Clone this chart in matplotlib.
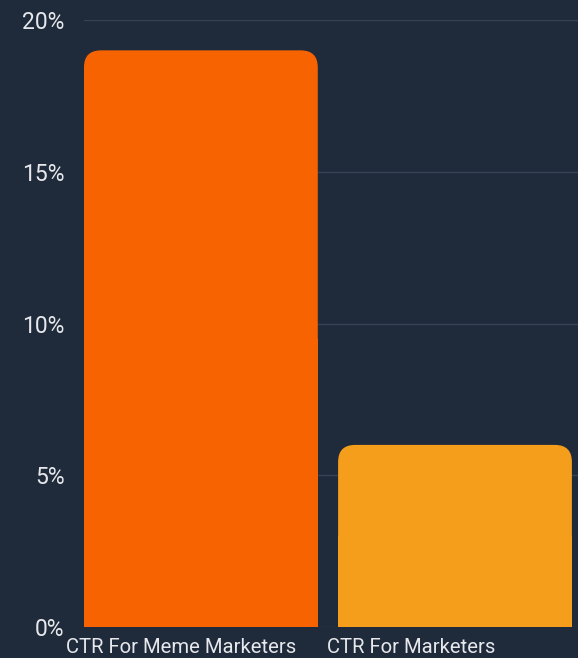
import matplotlib
matplotlib.use("Agg")
import matplotlib.pyplot as plt
from matplotlib.patches import FancyBboxPatch, Rectangle
from matplotlib.transforms import ScaledTranslation

# data
categories = ['CTR For Meme Marketers', 'CTR For Marketers']
ctr_values = [19, 6]
bar_colors = ['#f86302', '#f59e1b']
y_ticks = [0, 5, 10, 15, 20]
y_labels = ['0%', '5%', '10%', '15%', '20%']

bg = '#1f2a3b'
text_col = '#e6e8ec'
grid_col = '#364355'

plt.rcParams['font.family'] = ['Roboto', 'DejaVu Sans']

fig = plt.figure(figsize=(5.78, 6.58), dpi=100, facecolor=bg)
ax = fig.add_axes([0.1453, 0.0471, 0.8547, 0.9225])
ax.set_facecolor(bg)

width = 0.92
x = list(range(len(categories)))
bars = ax.bar(x, ctr_values, width=width, color=bar_colors, alpha=0)

ax.set_xlim(-0.46, 1.484)
ax.set_ylim(0, 20)

# rounded top corners (round box on top of a square bottom half)
aspect = 8.36  # data-y per data-x for one pixel
r = 0.067
for b, c in zip(bars, bar_colors):
    bx, by = b.get_x(), b.get_y()
    bw, bh = b.get_width(), b.get_height()
    ax.add_patch(Rectangle((bx, by), bw, bh / 2, facecolor=c, edgecolor='none', zorder=2.9))
    top = FancyBboxPatch((bx, by), bw, bh, boxstyle="round,pad=0,rounding_size=%f" % r,
                         mutation_aspect=aspect, facecolor=c, edgecolor='none', zorder=3)
    ax.add_patch(top)

ax.set_yticks(y_ticks)
ax.set_yticklabels(y_labels)
ax.set_xticks(x)
ax.set_xticklabels(categories)
ax.grid(axis='y', color=grid_col, linewidth=1)
ax.set_axisbelow(True)
for s in ax.spines.values():
    s.set_visible(False)
ax.tick_params(axis='both', length=0, colors=text_col)
ax.tick_params(axis='y', pad=14, labelsize=16.5)
ax.tick_params(axis='x', pad=8, labelsize=14.6)

# label offsets as in the picture
offs = [-20, -44]
for lab, o in zip(ax.get_xticklabels(), offs):
    lab.set_transform(lab.get_transform() + ScaledTranslation(o / 100, 0, fig.dpi_scale_trans))

fig.savefig('out.png', dpi=100, facecolor=bg)
